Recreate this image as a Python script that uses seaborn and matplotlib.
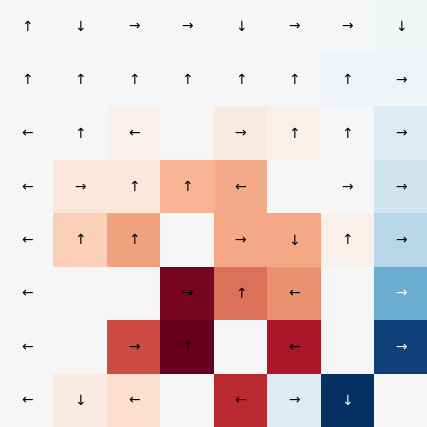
import numpy as np
import seaborn as sns
import matplotlib
matplotlib.use('Agg')
import matplotlib.pyplot as plt

# state values of the 8x8 grid (rows top -> bottom)
values = [
    [-0.01, -0.01, -0.015, -0.015, -0.015, -0.015, -0.015, -0.03],
    [-0.01, -0.01, -0.01, -0.015, -0.015, -0.015, -0.04, -0.04],
    [0.00, 0.00, 0.04, 0.00, 0.10, 0.05, -0.01, -0.14],
    [0.00, 0.12, 0.12, 0.34, 0.38, 0.00, 0.00, -0.20],
    [0.00, 0.24, 0.41, 0.00, 0.39, 0.39, 0.05, -0.28],
    [0.00, 0.00, 0.00, 0.96, 0.55, 0.46, 0.00, -0.50],
    [0.00, 0.00, 0.65, 1.00, 0.00, 0.82, 0.00, -0.93],
    [0.00, 0.09, 0.16, 0.00, 0.75, -0.12, -1.00, 0.00],
]

# greedy action per state ('' for holes and the goal)
arrows = [
    ['↑', '↓', '→', '→', '↓', '→', '→', '↓'],
    ['↑', '↑', '↑', '↑', '↑', '↑', '↑', '→'],
    ['←', '↑', '←', '', '→', '↑', '↑', '→'],
    ['←', '→', '↑', '↑', '←', '', '→', '→'],
    ['←', '↑', '↑', '', '→', '↓', '↑', '→'],
    ['←', '', '', '→', '↑', '←', '', '→'],
    ['←', '', '→', '↑', '', '←', '', '→'],
    ['←', '↓', '←', '', '←', '→', '↓', ''],
]

data = np.array(values)
labels = np.array(arrows)

fig = plt.figure(figsize=(4.275, 4.275), dpi=100)
ax = fig.add_axes([0, 0, 1, 1])
sns.heatmap(data, cmap='RdBu_r', vmin=-1, vmax=1, center=0, cbar=False,
            annot=labels, fmt='', annot_kws={'fontsize': 10},
            xticklabels=False, yticklabels=False, ax=ax)

# light arrows only on the stronger blue cells
for t in ax.texts:
    x, y = t.get_position()
    v = data[int(y), int(x)]
    t.set_color('white' if v < -0.4 else 'black')

ax.set_axis_off()
fig.savefig('out.png', dpi=100)
